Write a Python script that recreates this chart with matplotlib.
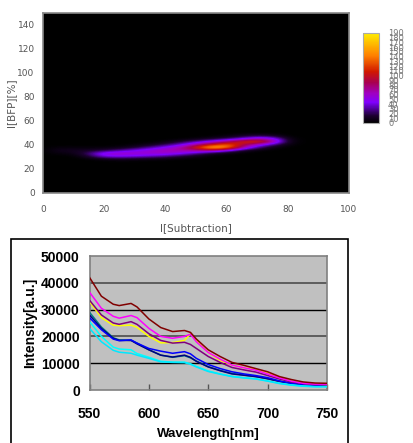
import numpy as np
import matplotlib
matplotlib.use("Agg")
import matplotlib.pyplot as plt
from matplotlib.colors import LinearSegmentedColormap
from matplotlib.patches import Rectangle

W, H = 413, 443

# ---------- top panel data ----------
heat_x = [0, 5, 10, 15, 20, 25, 30, 35, 40, 45, 50, 55, 60, 65, 70, 75, 80, 85, 90]
heat_y = [25, 27.5, 30, 32.5, 35, 37.5, 40, 42.5, 45, 47.5, 50]
heat_row_25 = [0] * 19
heat_row_27 = [0, 0, 0, 0, 4, 6, 5, 3, 2, 0, 0, 0, 0, 0, 0, 0, 0, 0, 0]
heat_row_30 = [0, 0, 0, 15, 40, 42, 38, 32, 25, 14, 7, 0, 0, 0, 0, 0, 0, 0, 0]
heat_row_32 = [0, 4, 6, 25, 58, 65, 60, 58, 55, 45, 28, 10, 3, 0, 0, 0, 0, 0, 0]
heat_row_35 = [0, 10, 10, 12, 18, 30, 45, 58, 68, 68, 68, 70, 42, 12, 2, 0, 0, 0, 0]
heat_row_37 = [0, 4, 4, 3, 3, 6, 14, 30, 48, 70, 112, 178, 150, 70, 28, 5, 0, 0, 0]
heat_row_40 = [0, 0, 0, 0, 0, 0, 3, 8, 20, 38, 68, 100, 135, 92, 55, 28, 4, 0, 0]
heat_row_42 = [0, 0, 0, 0, 0, 0, 0, 0, 3, 14, 30, 50, 76, 115, 128, 75, 8, 0, 0]
heat_row_45 = [0, 0, 0, 0, 0, 0, 0, 0, 0, 0, 3, 10, 18, 35, 60, 50, 6, 0, 0]
heat_row_47 = [0, 0, 0, 0, 0, 0, 0, 0, 0, 0, 0, 0, 3, 10, 15, 10, 0, 0, 0]
heat_row_50 = [0] * 19
heat_xticks = [0, 20, 40, 60, 80, 100]
heat_yticks = [0, 20, 40, 60, 80, 100, 120, 140]
cbar_ticks = list(range(0, 200, 10))

# ---------- bottom panel data ----------
wavelength = [550, 560, 570, 575, 585, 590, 600, 610, 620, 630, 635, 640, 650, 660,
              670, 680, 690, 700, 710, 720, 730, 740, 750]
s_teal = [29000, 23500, 19500, 18700, 18500, 17500, 15000, 13000, 12200, 12800, 12000, 10800, 8700, 7300,
          6200, 5600, 5000, 4200, 3200, 2400, 1900, 1600, 1500]
s_navy = [28000, 23000, 19300, 18500, 18500, 17200, 15000, 13000, 12300, 13000, 12200, 10700, 8600, 7200,
          6000, 5500, 5000, 4200, 3200, 2500, 2000, 1700, 1700]
s_blue = [27000, 22500, 19000, 18400, 18700, 17500, 15500, 14500, 13700, 14300, 13500, 11800, 9500, 8000,
          6800, 6000, 5400, 4600, 3400, 2500, 2000, 1800, 1700]
s_cyan1 = [25500, 20000, 16000, 15300, 15000, 13600, 12200, 10700, 10400, 10400, 9800, 8800, 7100, 6000,
           5100, 4600, 4200, 3400, 2500, 1900, 1500, 1300, 1300]
s_cyan2 = [23000, 18000, 14800, 14100, 13700, 13000, 11800, 10500, 10300, 10200, 9600, 8600, 6900, 5900,
           5000, 4500, 4100, 3300, 2400, 1800, 1400, 1200, 1200]
s_yellow = [33000, 27000, 24200, 24000, 24200, 23400, 20000, 17600, 17700, 18500, 21000, 18500, 14000, 11000,
            9300, 8300, 7700, 6500, 4500, 3300, 2500, 2200, 2000]
s_purple = [33500, 28000, 25000, 24500, 25500, 24500, 21000, 18500, 17500, 17800, 17000, 15500, 12500, 10300,
            8400, 7500, 6700, 5400, 4100, 3000, 2400, 2000, 2000]
s_magenta = [36500, 30500, 27500, 26800, 27800, 27000, 23000, 20000, 19300, 20000, 20800, 18000, 14000, 11500,
             9300, 8300, 7400, 6000, 4500, 3300, 2500, 2200, 2200]
s_maroon = [42000, 35000, 32000, 31500, 32300, 31000, 26500, 23300, 21800, 22200, 21500, 19000, 15000, 12500,
            10300, 9200, 8000, 6800, 5000, 3900, 3000, 2600, 2500]
spec_yticks = [0, 10000, 20000, 30000, 40000, 50000]
spec_xticks = [550, 600, 650, 700, 750]


def axes_px(fig, left, top, right, bottom):
    return fig.add_axes([left / W, 1 - bottom / H, (right - left) / W, (bottom - top) / H])


fig = plt.figure(figsize=(W / 100, H / 100), dpi=100, facecolor="white")
plt.rcParams["font.family"] = ["DejaVu Sans"]

# ---------- heat map ----------
ax = axes_px(fig, 43, 13, 349, 193)
ax.set_facecolor("black")
cmap = LinearSegmentedColormap.from_list(
    "heat",
    [(0, "#000000"), (0.08, "#1c0030"), (0.23, "#8000ff"), (0.33, "#a000c0"),
     (0.45, "#a80050"), (0.57, "#d01800"), (0.75, "#ff8000"), (1, "#ffee00")],
)
matrix = np.array([heat_row_25, heat_row_27, heat_row_30, heat_row_32, heat_row_35, heat_row_37,
                   heat_row_40, heat_row_42, heat_row_45, heat_row_47, heat_row_50], dtype=float)
dx, dy = heat_x[1] - heat_x[0], heat_y[1] - heat_y[0]
im = ax.imshow(matrix, origin="lower", aspect="auto", cmap=cmap, vmin=0, vmax=190,
               interpolation="bicubic",
               extent=[heat_x[0] - dx / 2, heat_x[-1] + dx / 2, heat_y[0] - dy / 2, heat_y[-1] + dy / 2])
ax.set_xlim(0, 100)
ax.set_ylim(0, 150)
ax.set_xticks(heat_xticks)
ax.set_yticks(heat_yticks)
ax.tick_params(length=0, labelsize=6.5, colors="#555555", pad=9)
ax.tick_params(axis="y", pad=6)
ax.set_xlabel("I[Subtraction]", fontsize=7.5, color="#555555", labelpad=6)
ax.set_ylabel("I[BFP][%]", fontsize=7.5, color="#555555", labelpad=1)
for s in ax.spines.values():
    s.set_color("#888888")
    s.set_linewidth(1.2)

cax = axes_px(fig, 363, 33, 379, 123)
cb = fig.colorbar(im, cax=cax)
cb.set_ticks(cbar_ticks)
cb.ax.tick_params(length=0, labelsize=6, colors="#777777", pad=6.5)
cb.outline.set_edgecolor("#aaaaaa")

# ---------- outer box of the lower panel ----------
fig.add_artist(Rectangle((10.5 / W, -5 / H), 337 / W, (5 + H - 239) / H, transform=fig.transFigure,
                         facecolor="white", edgecolor="black", linewidth=1.2, zorder=-1))

# ---------- spectra ----------
ax2 = axes_px(fig, 89.5, 256, 327, 390)
ax2.set_facecolor("#c0c0c0")
ax2.set_xlim(550, 750)
ax2.set_ylim(0, 50000)
for v in spec_yticks[1:-1]:
    shade = "#555555" if v in (20000, 40000) else "black"
    ax2.axhline(v, color=shade, lw=1.3 if v in (20000, 40000) else 1.0, zorder=1)
series = [(s_teal, "#008080"), (s_navy, "#000080"), (s_blue, "#0000ff"), (s_cyan1, "#00ffff"),
          (s_cyan2, "#00e8ff"), (s_yellow, "#ffff00"), (s_purple, "#800080"),
          (s_magenta, "#ff00ff"), (s_maroon, "#800000")]
for vals, col in series:
    ax2.plot(wavelength, vals, color=col, lw=1.1, zorder=3, solid_joinstyle="round")
ax2.set_xticks(spec_xticks)
ax2.set_yticks(spec_yticks)
ax2.tick_params(axis="x", direction="in", length=4, width=1, color="#555555", pad=12)
ax2.tick_params(axis="y", length=0, pad=7)
for lab in ax2.get_xticklabels() + ax2.get_yticklabels():
    lab.set_fontweight("bold")
    lab.set_fontfamily("Liberation Sans")
    lab.set_fontsize(10)
ax2.set_xlabel("Wavelength[nm]", fontsize=9.5, fontweight="bold", family="Liberation Sans", labelpad=5)
ax2.set_ylabel("Intensity[a.u.]", fontsize=10, fontweight="bold", family="Liberation Sans", labelpad=3)
for name, s in ax2.spines.items():
    s.set_color("#808080")
    s.set_linewidth(1.2)

fig.savefig("out.png", dpi=100, facecolor="white")
